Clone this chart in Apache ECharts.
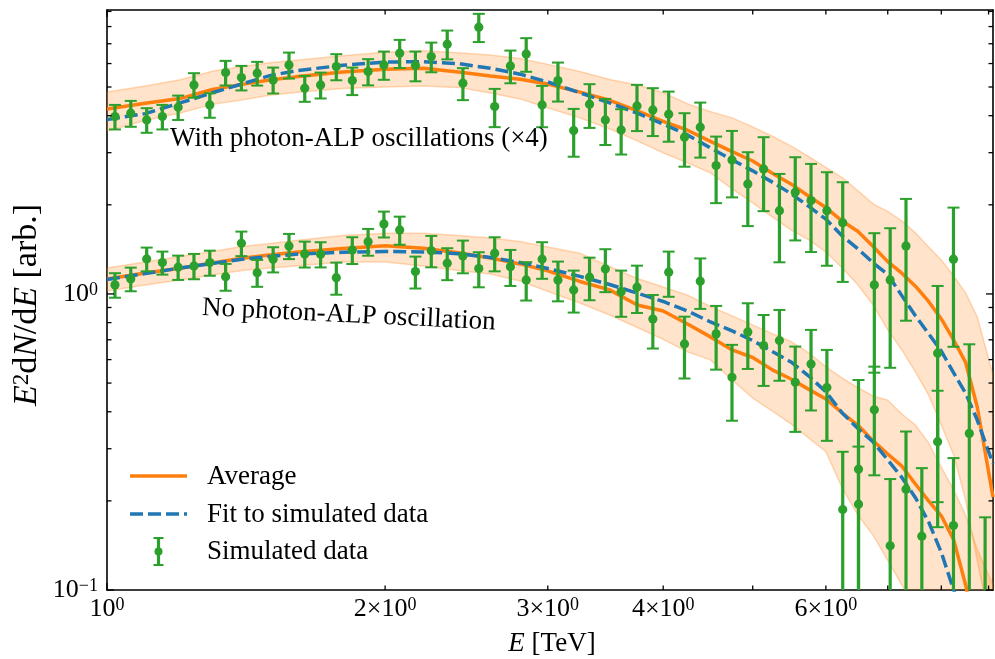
<!DOCTYPE html>
<html><head><meta charset="utf-8">
<script src="https://cdn.jsdelivr.net/npm/echarts@6/dist/echarts.min.js"></script>
<style>html,body{margin:0;padding:0;background:#fff}#c{width:995px;height:659px}</style>
</head><body><div id="c"></div>
<script>
// ---------------- data ----------------
const energy = [1.020,1.061,1.104,1.148,1.194,1.242,1.292,1.344,1.398,1.454,1.513,1.574,1.637,1.703,1.771,1.843,1.917,1.994,2.074,2.157,2.244,2.335,2.428,2.526,2.628,2.733,2.843,2.958,3.077,3.200,3.329,3.463,3.602,3.747,3.898,4.055,4.218,4.387,4.564,4.748,4.939,5.137,5.344,5.559,5.782,6.015,6.257,6.508,6.770,7.043,7.326,7.621,7.927,8.246,8.578,8.923];

const withAlpY   = [3.972,4.078,3.871,3.972,4.273,5.083,4.350,5.593,5.380,5.567,5.284,5.937,4.954,5.083,5.861,5.255,5.636,5.937,6.505,5.906,6.335,6.977,5.151,7.962,4.293,5.892,6.469,4.350,5.255,3.562,4.374,3.871,3.582,4.316,4.184,4.046,3.384,3.658,2.713,2.836,2.353,2.644,1.911,2.206,2.067,1.911,1.741,0.256,1.073,1.115,1.453,null,0.631,1.310,0.338,null];
const withAlpErr = [0.378,0.409,0.369,0.378,0.404,0.484,0.414,0.534,0.512,0.512,0.531,0.598,0.498,0.510,0.593,0.560,0.572,0.649,0.709,0.680,0.728,0.778,0.637,0.870,0.634,0.745,0.841,0.693,0.791,0.655,0.737,0.687,0.625,0.767,0.770,0.779,0.694,0.771,0.687,0.717,0.658,0.740,0.632,0.690,0.682,0.666,0.643,0.256,0.531,0.552,0.641,null,0.433,0.647,0.338,null];

const noAlpY   = [1.073,1.124,1.313,1.276,1.231,1.243,1.276,1.144,1.483,1.180,1.310,1.453,1.365,1.362,1.135,1.408,1.502,1.724,1.645,1.190,1.400,1.270,1.344,1.218,1.373,1.236,1.115,1.310,1.115,1.032,1.139,1.215,1.018,1.054,0.823,1.184,0.678,1.104,0.733,0.523,0.744,0.669,0.696,0.503,0.580,0.483,0.187,0.195,0.406,0.141,0.219,0.152,0.317,0.165,null,0.060];
const noAlpErr = [0.102,0.103,0.121,0.114,0.116,0.122,0.124,0.119,0.141,0.123,0.128,0.142,0.137,0.133,0.141,0.146,0.156,0.173,0.179,0.147,0.170,0.157,0.170,0.165,0.181,0.172,0.165,0.185,0.171,0.167,0.187,0.201,0.181,0.192,0.169,0.206,0.160,0.214,0.178,0.150,0.186,0.180,0.187,0.161,0.176,0.164,0.106,0.110,0.162,0.096,0.124,0.106,0.154,0.114,null,0.116];

const curveE = [1.0,1.1,1.2,1.3,1.4,1.5,1.6,1.8,2.0,2.2,2.4,2.6,2.8,3.0,3.25,3.5,3.75,4.0,4.25,4.5,4.75,5.0,5.25,5.5,5.75,6.0,6.25,6.5,6.75,7.0,7.25,7.5,7.75,8.0,8.25,8.5,8.75,9.1];

const withAlpAvg    = [4.217,4.405,4.569,4.904,5.103,5.276,5.410,5.615,5.739,5.788,5.620,5.447,5.312,5.115,4.806,4.509,4.151,3.826,3.573,3.275,3.025,2.812,2.555,2.353,2.138,1.958,1.763,1.626,1.447,1.286,1.175,1.062,0.943,0.823,0.699,0.587,0.415,0.206];
const withAlpFit    = [3.880,4.065,4.418,4.780,5.119,5.460,5.672,5.920,6.069,6.088,5.998,5.784,5.524,5.199,4.780,4.421,4.078,3.750,3.444,3.113,2.836,2.605,2.386,2.181,1.975,1.789,1.570,1.419,1.273,1.164,0.987,0.844,0.734,0.641,0.541,0.462,0.375,0.267];
const withAlpBandHi = [4.813,5.043,5.292,5.649,5.861,6.036,6.160,6.380,6.546,6.622,6.530,6.410,6.243,5.962,5.636,5.301,5.075,4.786,4.385,4.129,3.932,3.666,3.408,3.162,2.910,2.675,2.470,2.228,2.014,1.900,1.765,1.608,1.441,1.303,1.150,1.008,0.836,0.533];
const withAlpBandLo = [3.553,3.856,4.087,4.368,4.516,4.685,4.786,4.946,5.004,5.043,4.985,4.775,4.558,4.250,3.932,3.609,3.288,2.995,2.771,2.563,2.263,2.029,1.820,1.645,1.522,1.386,1.224,1.072,0.918,0.756,0.647,0.545,0.456,0.361,0.286,0.201,0.126,0.068];

const noAlpAvg    = [1.124,1.177,1.222,1.273,1.320,1.354,1.384,1.425,1.455,1.427,1.378,1.323,1.263,1.196,1.102,1.032,0.918,0.876,0.792,0.716,0.647,0.610,0.554,0.516,0.476,0.442,0.396,0.360,0.319,0.288,0.262,0.228,0.200,0.178,0.148,0.104,0.068,0.0425];
const noAlpFit    = [1.119,1.172,1.223,1.268,1.310,1.337,1.362,1.383,1.391,1.386,1.368,1.328,1.277,1.219,1.146,1.076,1.006,0.943,0.876,0.804,0.750,0.696,0.639,0.589,0.528,0.467,0.396,0.351,0.316,0.275,0.240,0.205,0.170,0.134,0.100,0.079,0.058,0.036];
const noAlpBandHi = [1.224,1.283,1.339,1.392,1.445,1.481,1.516,1.575,1.604,1.604,1.576,1.546,1.503,1.441,1.373,1.238,1.127,1.056,0.991,0.907,0.843,0.786,0.734,0.691,0.632,0.567,0.520,0.482,0.452,0.438,0.393,0.361,0.314,0.260,0.218,0.179,0.137,0.104];
const noAlpBandLo = [1.024,1.072,1.115,1.159,1.199,1.224,1.243,1.283,1.283,1.243,1.201,1.168,1.106,1.020,0.932,0.849,0.770,0.702,0.637,0.599,0.512,0.445,0.402,0.364,0.326,0.293,0.221,0.179,0.153,0.126,0.104,0.086,0.068,0.054,0.043,0.034,0.027,0.020];

const xMin = 1, xMax = 9.1, yMin = 0.1, yMax = 9.1;
const xTicks      = [1, 2, 3, 4, 5, 6, 7, 8, 9];
const xTickMajor  = [true, false, false, false, false, false, false, false, false];
const xTickLabels = ['10^0', '2×10^0', '3×10^0', '4×10^0', '', '6×10^0', '', '', ''];
const yTicks      = [0.1,0.2,0.3,0.4,0.5,0.6,0.7,0.8,0.9,1,2,3,4,5,6,7,8,9];
const yTickMajor  = [true,false,false,false,false,false,false,false,false,true,false,false,false,false,false,false,false,false];
const yTickLabels = ['10^−1','','','','','','','','','10^0','','','','','','','',''];

const annotationTop = 'With photon-ALP oscillations (×4)';
const annotationBottom = 'No photon-ALP oscillation';
const legendNames = ['Average', 'Fit to simulated data', 'Simulated data'];

// ---------------- style ----------------
const ORANGE = '#ff7f0e', BLUE = '#1f77b4', GREEN = '#2ca02c';
const FONT = '"Liberation Serif", "Times New Roman", serif';
const RICH = {
  m: {fontSize: 26, fontFamily: FONT, color: '#000', lineHeight: 26, verticalAlign: 'bottom'},
  s: {fontSize: 18, fontFamily: FONT, color: '#000', lineHeight: 18, verticalAlign: 'top', padding: [0, 0, 10, 0]},
  i: {fontSize: 27, fontFamily: FONT, fontStyle: 'italic', color: '#000', lineHeight: 27, verticalAlign: 'bottom'},
  n: {fontSize: 27, fontFamily: FONT, color: '#000', lineHeight: 27, verticalAlign: 'bottom'},
  yi: {fontSize: 34, fontFamily: FONT, fontStyle: 'italic', color: '#000', lineHeight: 34, verticalAlign: 'bottom'},
  yn: {fontSize: 34, fontFamily: FONT, color: '#000', lineHeight: 34, verticalAlign: 'bottom'},
  ys: {fontSize: 23, fontFamily: FONT, color: '#000', lineHeight: 23, verticalAlign: 'top', padding: [0, 0, 13, 0]}
};
function toRich(s) { const p = s.split('^'); return '{m|' + p[0] + '}{s|' + p[1] + '}'; }

const chart = echarts.init(document.getElementById('c'), null, {renderer: 'canvas'});

function axisBase(extra) {
  return Object.assign({
    type: 'log', logBase: 10,
    axisLine: {show: true, onZero: false, lineStyle: {color: '#000', width: 1.6}},
    axisTick: {show: false}, axisLabel: {show: false}, splitLine: {show: false},
    minorTick: {show: false}, minorSplitLine: {show: false}
  }, extra);
}

function bandSeries(hi, lo) {
  return {
    type: 'custom', z: 1, silent: true, clip: true,
    data: [[curveE[0], hi[0]]],
    renderItem: function (params, api) {
      const pts = [];
      for (let i = 0; i < curveE.length; i++) pts.push(api.coord([curveE[i], hi[i]]));
      for (let i = curveE.length - 1; i >= 0; i--) pts.push(api.coord([curveE[i], lo[i]]));
      const cs = params.coordSys;
      return {
        type: 'polygon', shape: {points: pts},
        style: {fill: 'rgba(255,127,14,0.22)', stroke: 'rgba(255,127,14,0.28)', lineWidth: 1.5},
        clipPath: {type: 'rect', shape: {x: cs.x, y: cs.y, width: cs.width, height: cs.height}}
      };
    }
  };
}

function lineSeries(name, vals, color, dashed, z) {
  return {
    name: name, type: 'line', z: z, showSymbol: false, symbol: 'none', silent: true, clip: true,
    data: curveE.map((e, i) => [e, vals[i]]),
    lineStyle: {color: color, width: 3.5, type: dashed ? [13, 5] : 'solid', cap: 'butt'}
  };
}

function errSeries(ys, errs) {
  const data = [];
  for (let i = 0; i < energy.length; i++) if (ys[i] != null) data.push([energy[i], ys[i], errs[i]]);
  return {
    type: 'custom', z: 4, silent: true,
    data: data,
    renderItem: function (params, api) {
      const x = api.value(0), y = api.value(1), e = api.value(2);
      const cs = params.coordSys;
      const bottom = cs.y + cs.height;
      const c = api.coord([x, y]);
      const t = api.coord([x, y + e]);
      const lowV = (y - e) > 0 ? (y - e) : 1e-6;
      let b = api.coord([x, lowV]);
      let bCap = true;
      let by = b[1];
      if (by > bottom) { by = bottom; bCap = false; }
      const ch = [];
      if (t[1] < bottom) {
        ch.push({type: 'line', shape: {x1: c[0], y1: t[1], x2: c[0], y2: by}, style: {stroke: GREEN, lineWidth: 3.2}});
        ch.push({type: 'line', shape: {x1: c[0] - 6, y1: t[1], x2: c[0] + 6, y2: t[1]}, style: {stroke: GREEN, lineWidth: 2}});
      }
      if (bCap) ch.push({type: 'line', shape: {x1: c[0] - 6, y1: by, x2: c[0] + 6, y2: by}, style: {stroke: GREEN, lineWidth: 2}});
      if (c[1] <= bottom) ch.push({type: 'circle', shape: {cx: c[0], cy: c[1], r: 4.6}, style: {fill: GREEN}});
      return {type: 'group', children: ch};
    }
  };
}

const xTickSeries = {
  type: 'custom', z: 6, silent: true,
  data: xTicks.map(v => [v, 1]),
  renderItem: function (params, api) {
    const i = params.dataIndex;
    const cs = params.coordSys;
    const px = api.coord([api.value(0), 1])[0];
    const bottom = cs.y + cs.height, top = cs.y;
    const len = xTickMajor[i] ? 7 : 4.5;
    const ch = [
      {type: 'line', shape: {x1: px, y1: bottom, x2: px, y2: bottom - len}, style: {stroke: '#000', lineWidth: 1.3}},
      {type: 'line', shape: {x1: px, y1: top, x2: px, y2: top + len}, style: {stroke: '#000', lineWidth: 1.3}}
    ];
    if (xTickLabels[i]) ch.push({type: 'text', x: px, y: bottom + 6,
      style: {text: toRich(xTickLabels[i]), rich: RICH, align: 'center', verticalAlign: 'top'}});
    return {type: 'group', children: ch};
  }
};

const yTickSeries = {
  type: 'custom', z: 6, silent: true,
  data: yTicks.map(v => [1, v]),
  renderItem: function (params, api) {
    const i = params.dataIndex;
    const cs = params.coordSys;
    const py = api.coord([1, api.value(1)])[1];
    const left = cs.x, right = cs.x + cs.width;
    const len = yTickMajor[i] ? 7 : 4.5;
    const ch = [
      {type: 'line', shape: {x1: left, y1: py, x2: left + len, y2: py}, style: {stroke: '#000', lineWidth: 1.3}},
      {type: 'line', shape: {x1: right, y1: py, x2: right - len, y2: py}, style: {stroke: '#000', lineWidth: 1.3}}
    ];
    if (yTickLabels[i]) ch.push({type: 'text', x: left - 9, y: py,
      style: {text: toRich(yTickLabels[i]), rich: RICH, align: 'right', verticalAlign: 'middle'}});
    return {type: 'group', children: ch};
  }
};

const textStyle = {fontSize: 27, fontFamily: FONT, fill: '#000'};

const option = {
  animation: false,
  backgroundColor: '#fff',
  grid: {left: 107, top: 10, width: 886, height: 580, containLabel: false},
  xAxis: [
    axisBase({min: xMin, max: xMax, position: 'bottom'}),
    axisBase({min: xMin, max: xMax, position: 'top'})
  ],
  yAxis: [
    axisBase({min: yMin, max: yMax, position: 'left'}),
    axisBase({min: yMin, max: yMax, position: 'right'})
  ],
  series: [
    bandSeries(withAlpBandHi, withAlpBandLo),
    bandSeries(noAlpBandHi, noAlpBandLo),
    lineSeries(legendNames[0], withAlpAvg, ORANGE, false, 2),
    lineSeries(legendNames[0], noAlpAvg, ORANGE, false, 2),
    lineSeries(legendNames[1], withAlpFit, BLUE, true, 3),
    lineSeries(legendNames[1], noAlpFit, BLUE, true, 3),
    errSeries(withAlpY, withAlpErr),
    errSeries(noAlpY, noAlpErr),
    xTickSeries,
    yTickSeries
  ],
  graphic: [
    {type: 'text', x: 170, y: 139, z: 10, style: Object.assign({text: annotationTop, verticalAlign: 'middle', align: 'left'}, textStyle)},
    {type: 'text', x: 202, y: 308, rotation: -0.049, z: 10, style: Object.assign({text: annotationBottom, verticalAlign: 'middle', align: 'left'}, textStyle)},
    // legend
    {type: 'line', z: 10, shape: {x1: 130, y1: 476, x2: 187, y2: 476}, style: {stroke: ORANGE, lineWidth: 3.5}},
    {type: 'text', x: 207, y: 477, z: 10, style: Object.assign({text: legendNames[0], verticalAlign: 'middle'}, textStyle)},
    {type: 'line', z: 10, shape: {x1: 130, y1: 514, x2: 187, y2: 514}, style: {stroke: BLUE, lineWidth: 3.5, lineDash: [13, 5]}},
    {type: 'text', x: 207, y: 515, z: 10, style: Object.assign({text: legendNames[1], verticalAlign: 'middle'}, textStyle)},
    {type: 'line', z: 10, shape: {x1: 158.5, y1: 538, x2: 158.5, y2: 565}, style: {stroke: GREEN, lineWidth: 3.2}},
    {type: 'line', z: 10, shape: {x1: 153.5, y1: 538, x2: 163.5, y2: 538}, style: {stroke: GREEN, lineWidth: 2}},
    {type: 'line', z: 10, shape: {x1: 153.5, y1: 565, x2: 163.5, y2: 565}, style: {stroke: GREEN, lineWidth: 2}},
    {type: 'circle', z: 10, shape: {cx: 158.5, cy: 551.5, r: 4}, style: {fill: GREEN}},
    {type: 'text', x: 207, y: 552, z: 10, style: Object.assign({text: legendNames[2], verticalAlign: 'middle'}, textStyle)},
    // axis titles
    {type: 'text', x: 27, y: 305, rotation: Math.PI / 2, z: 10,
      style: {text: '{yi|E}{ys|2}{yn|d}{yi|N}{yn|/d}{yi|E}{yn| [arb.]}', rich: RICH, align: 'center', verticalAlign: 'middle'}},
    {type: 'text', x: 552, y: 644, z: 10,
      style: {text: '{i|E}{n| [TeV]}', rich: RICH, align: 'center', verticalAlign: 'middle'}}
  ]
};
chart.setOption(option);
</script>
</body></html>
